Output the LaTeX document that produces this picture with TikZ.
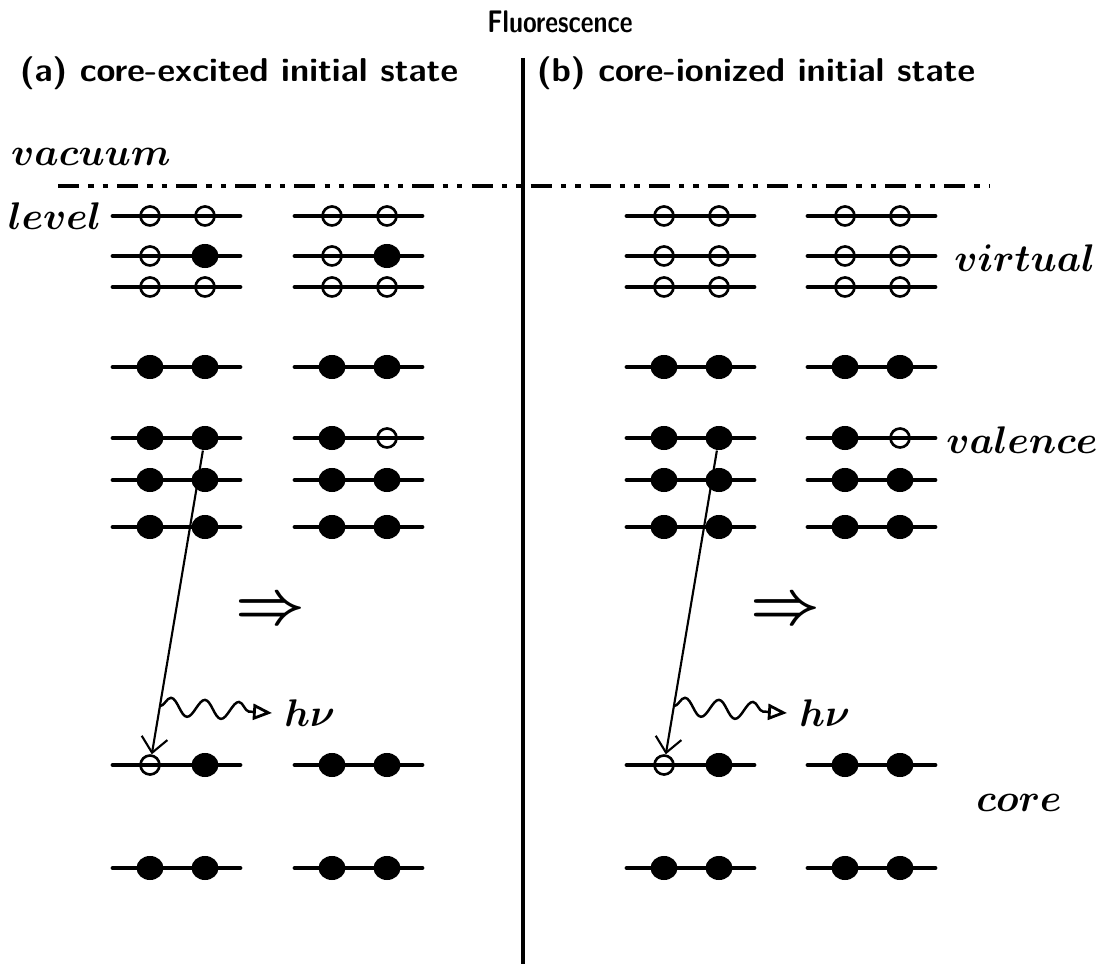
\documentclass[tikz,border=0pt]{standalone}
\usepackage{amsmath}
\usepackage{graphicx}
\usetikzlibrary{arrows.meta,decorations.pathmorphing,shapes.geometric,calc}

\tikzset{
  lev/.style={line width=1.4pt, line cap=round},
  hole/.style={circle, draw, line width=0.75pt, minimum size=0.19cm, inner sep=0pt},
  elec/.style={ellipse, fill, minimum width=0.27cm, minimum height=0.24cm, inner sep=0pt},
  lab/.style={font=\fontsize{11.2}{13}\selectfont\boldmath},
  trans/.style={line width=0.6pt, -{Straight Barb[length=1.5mm,width=2.6mm]}},
  photon/.style={line width=0.7pt, decorate,
    decoration={snake, amplitude=0.09cm, segment length=0.34cm, post length=0.2cm},
    -{Triangle[open,length=1.9mm,width=1.6mm,line width=0.8pt]}},
}

\begin{document}
\begin{tikzpicture}[x=0.01cm,y=-0.01cm]
  \useasboundingbox (0,0) rectangle (1118,964);

  % headings
  \node (title) at (560,22) {\resizebox*{1.45cm}{0.22cm}{\sffamily\bfseries Fluorescence}};
  \node (heada) at (239,73) {\resizebox*{4.38cm}{0.33cm}{\sffamily\bfseries (a) core-excited initial state}};
  \node (headb) at (756,73) {\resizebox*{4.38cm}{0.33cm}{\sffamily\bfseries (b) core-ionized initial state}};

  \draw[line width=1pt] (523,58) -- (523,964);
  \draw[line width=1.4pt, dash pattern=on 6pt off 2.6pt on 1.5pt off 2.6pt on 1.5pt off 2.6pt]
    (58,186) -- (990,186);

  \node[lab] (vac) at (91,157) {$vacuum$};
  \node[lab, anchor=east] (lvl) at (114,216) {$level$};
  \node[lab, anchor=west] (virt) at (942,258) {$virtual$};
  \node[lab, anchor=west] (val) at (934,440) {$valence$};
  \node[lab, anchor=west] (cor) at (964,803) {$core$};

  % (a) initial and final
  \foreach \r/\y/\p/\q in {1/216/hole/hole,2/256/hole/elec,3/287/hole/hole,
      4/367/elec/elec,5/438/elec/elec,6/480/elec/elec,7/527/elec/elec,
      8/765/hole/elec,9/868/elec/elec}{
    \draw[lev] (113,\y) -- (240,\y);
    \node[\p] (a\r l) at (150,\y) {};
    \node[\q] (a\r r) at (205,\y) {};
  }
  \foreach \r/\y/\p/\q in {1/216/hole/hole,2/256/hole/elec,3/287/hole/hole,
      4/367/elec/elec,5/438/elec/hole,6/480/elec/elec,7/527/elec/elec,
      8/765/elec/elec,9/868/elec/elec}{
    \draw[lev] (295,\y) -- (422,\y);
    \node[\p] (b\r l) at (332,\y) {};
    \node[\q] (b\r r) at (387,\y) {};
  }

  % (b) initial and final
  \foreach \r/\y/\p/\q in {1/216/hole/hole,2/256/hole/hole,3/287/hole/hole,
      4/367/elec/elec,5/438/elec/elec,6/480/elec/elec,7/527/elec/elec,
      8/765/hole/elec,9/868/elec/elec}{
    \draw[lev] (627,\y) -- (754,\y);
    \node[\p] (c\r l) at (664,\y) {};
    \node[\q] (c\r r) at (719,\y) {};
  }
  \foreach \r/\y/\p/\q in {1/216/hole/hole,2/256/hole/hole,3/287/hole/hole,
      4/367/elec/elec,5/438/elec/hole,6/480/elec/elec,7/527/elec/elec,
      8/765/elec/elec,9/868/elec/elec}{
    \draw[lev] (808,\y) -- (935,\y);
    \node[\p] (d\r l) at (845,\y) {};
    \node[\q] (d\r r) at (900,\y) {};
  }

  % transitions
  \node[font=\fontsize{16}{18}\selectfont\boldmath] (impa) at (270,612) {$\Rightarrow$};
  \node[font=\fontsize{16}{18}\selectfont\boldmath] (impb) at (785,612) {$\Rightarrow$};

  \draw[trans] (a5r) -- (a8l);
  \draw[trans] (c5r) -- (c8l);

  \coordinate (pa) at ($(a5r)!0.82!(a8l)$);
  \coordinate (pc) at ($(c5r)!0.82!(c8l)$);
  \node[lab, anchor=west] (hva) at (272,713) {$h\nu$};
  \node[lab, anchor=west] (hvc) at (787,713) {$h\nu$};
  \draw[photon] (pa) -- (hva.west);
  \draw[photon] (pc) -- (hvc.west);

\end{tikzpicture}
\end{document}
